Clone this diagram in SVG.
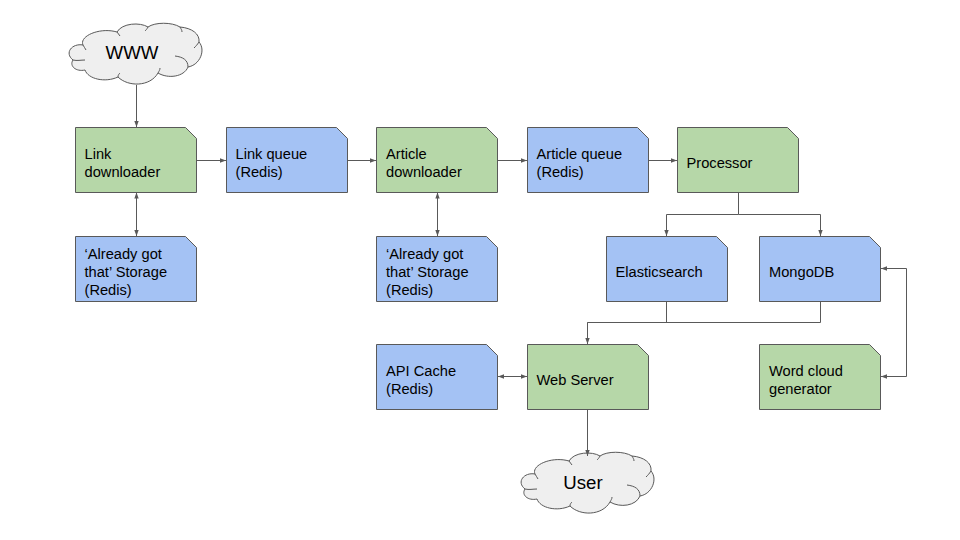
<svg xmlns="http://www.w3.org/2000/svg" width="960" height="540" viewBox="0 0 960 540">
<style>
.n{stroke:#595959;stroke-width:1}
.g{fill:#b6d7a8}
.b{fill:#a4c2f4}
text{font-family:"Liberation Sans",Arial,sans-serif;font-size:14.67px;fill:#000}
.big{font-size:18.67px}
.c{fill:none;stroke:#595959;stroke-width:1}
.cl{fill:#efefef;stroke:#595959;stroke-width:1}
.cr{fill:none;stroke:#595959;stroke-width:1}
</style>
<defs>
<marker id="a" markerWidth="7" markerHeight="6" refX="6" refY="3" orient="auto-start-reverse" markerUnits="userSpaceOnUse"><path d="M0 0.800L6 3L0 5.200Z" fill="#595959"/></marker>
<path id="f" d="M0 0H110L121 11V65H0Z"/>
<g id="cloud">
<path class="cl" d="M83 45C79 36 100 27 117 32C122 23 140 22 148 27C155 22 172 22 180 27C192 28 200 34 199 42C206 50 200 65 188 67C184 77 168 79 158 73C150 87 128 87 118 77C105 83 88 79 85 70C76 72 69 66 73 60C64 53 72 43 83 45Z"/>
<path class="cr" d="M73 60C77 61 81 60 85 60M188 67C188 60 183 57 175 56M118 77C118 75 119 74 120 73M158 73C159 71 160 70 160 68M199 42C197 45 196 46 194 48M180 27C181 29 182 30 182 32M148 27C147 29 146 30 145 31M117 32C118 33 119 35 120 36M83 45C84 47 85 48 86 50"/>
</g>
</defs>
<g id="www"><use href="#cloud"/><text class="big" x="132" y="59" text-anchor="middle">WWW</text></g>
<g id="link-downloader"><use href="#f" x="75.500" y="127.500" class="n g"/><text x="84.500" y="159">Link</text><text x="84.500" y="177">downloader</text></g>
<g id="link-queue"><use href="#f" x="226.500" y="127.500" class="n b"/><text x="235.500" y="159">Link queue</text><text x="235.500" y="177">(Redis)</text></g>
<g id="article-downloader"><use href="#f" x="376.500" y="127.500" class="n g"/><text x="386" y="159">Article</text><text x="386" y="177">downloader</text></g>
<g id="article-queue"><use href="#f" x="527.500" y="127.500" class="n b"/><text x="536.500" y="159">Article queue</text><text x="536.500" y="177">(Redis)</text></g>
<g id="processor"><use href="#f" x="677.500" y="127.500" class="n g"/><text x="686.500" y="168">Processor</text></g>
<g id="storage-1"><use href="#f" x="75.500" y="236.500" class="n b"/><text x="84.500" y="259">‘Already got</text><text x="84.500" y="277">that’ Storage</text><text x="84.500" y="295">(Redis)</text></g>
<g id="storage-2"><use href="#f" x="376.500" y="236.500" class="n b"/><text x="386" y="259">‘Already got</text><text x="386" y="277">that’ Storage</text><text x="386" y="295">(Redis)</text></g>
<g id="elasticsearch"><use href="#f" x="606.500" y="236.500" class="n b"/><text x="615.500" y="277">Elasticsearch</text></g>
<g id="mongodb"><use href="#f" x="759.500" y="236.500" class="n b"/><text x="769" y="277">MongoDB</text></g>
<g id="api-cache"><use href="#f" x="376.500" y="344.500" class="n b"/><text x="386" y="376">API Cache</text><text x="386" y="394">(Redis)</text></g>
<g id="web-server"><use href="#f" x="527.500" y="344.500" class="n g"/><text x="536.500" y="385">Web Server</text></g>
<g id="word-cloud"><use href="#f" x="759.500" y="344.500" class="n g"/><text x="769" y="376">Word cloud</text><text x="769" y="394">generator</text></g>
<g id="user"><use href="#cloud" x="452" y="429"/><text class="big" x="583" y="489" text-anchor="middle">User</text></g>
<g id="connectors" class="c">
<path d="M136.500 85V127" marker-end="url(#a)"/>
<path d="M196.500 160.500H226" marker-end="url(#a)"/>
<path d="M347.500 160.500H376" marker-end="url(#a)"/>
<path d="M497.500 160.500H527" marker-end="url(#a)"/>
<path d="M648.500 160.500H677" marker-end="url(#a)"/>
<path d="M136.500 192.500V236" marker-start="url(#a)" marker-end="url(#a)"/>
<path d="M437.500 192.500V236" marker-start="url(#a)" marker-end="url(#a)"/>
<path d="M738.500 192.500V214.500H666.500V236" marker-end="url(#a)"/>
<path d="M738.500 214.500H820.500V236" marker-end="url(#a)"/>
<path d="M666.500 301.500V322.500H587.500V344" marker-end="url(#a)"/>
<path d="M820.500 301.500V322.500H587.500"/>
<path d="M498 376.500H527" marker-start="url(#a)" marker-end="url(#a)"/>
<path d="M587.500 409.500V456" marker-end="url(#a)"/>
<path d="M881 376.500H906.500V268.500H881" marker-start="url(#a)" marker-end="url(#a)"/>
</g>
</svg>
